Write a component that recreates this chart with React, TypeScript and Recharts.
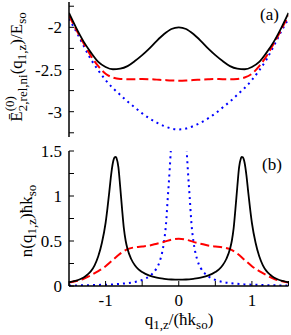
import React from 'react';
import { LineChart, Line, XAxis, YAxis } from 'recharts';

// ---------- data ----------
const qGrid = [-1.5, -1.4, -1.3, -1.2, -1.1, -1.0, -0.9, -0.8, -0.7, -0.6, -0.5, -0.4, -0.3, -0.2, -0.1, 0,
  0.1, 0.2, 0.3, 0.4, 0.5, 0.6, 0.7, 0.8, 0.9, 1.0, 1.1, 1.2, 1.3, 1.4, 1.5];

// panel (a): energy
const energySolid = [-1.83, -2.01, -2.17, -2.30, -2.41, -2.47, -2.497, -2.49, -2.46, -2.40, -2.33, -2.25, -2.16, -2.08, -2.02, -2.0,
  -2.02, -2.08, -2.16, -2.25, -2.33, -2.40, -2.46, -2.49, -2.497, -2.47, -2.41, -2.30, -2.17, -2.01, -1.83];
const energyDashed = [-1.86, -2.03, -2.19, -2.34, -2.46, -2.55, -2.595, -2.612, -2.615, -2.615, -2.612, -2.615, -2.62, -2.625, -2.63, -2.632,
  -2.63, -2.625, -2.62, -2.615, -2.612, -2.615, -2.615, -2.612, -2.595, -2.55, -2.46, -2.34, -2.19, -2.03, -1.86];
const energyDotted = [-1.90, -2.05, -2.22, -2.38, -2.51, -2.625, -2.72, -2.80, -2.88, -2.95, -3.02, -3.08, -3.13, -3.17, -3.20, -3.21,
  -3.20, -3.17, -3.13, -3.08, -3.02, -2.95, -2.88, -2.80, -2.72, -2.625, -2.51, -2.38, -2.22, -2.05, -1.90];

// panel (b): density
const qDensitySolid = [-1.5, -1.45, -1.4, -1.35, -1.3, -1.25, -1.2, -1.15, -1.1, -1.05, -1.0, -0.975, -0.95, -0.925, -0.9, -0.875, -0.86, -0.85,
  -0.825, -0.8, -0.775, -0.75, -0.725, -0.7, -0.65, -0.6, -0.55, -0.5, -0.4, -0.3, -0.2, -0.1, 0,
  0.1, 0.2, 0.3, 0.4, 0.5, 0.55, 0.6, 0.65, 0.7, 0.725, 0.75, 0.775, 0.8, 0.825, 0.85, 0.86, 0.875, 0.9, 0.925, 0.95, 0.975,
  1.0, 1.05, 1.1, 1.15, 1.2, 1.25, 1.3, 1.35, 1.4, 1.45, 1.5];
const densitySolid = [0.04, 0.05, 0.06, 0.075, 0.095, 0.125, 0.165, 0.23, 0.33, 0.48, 0.70, 0.86, 1.04, 1.23, 1.37, 1.43, 1.435, 1.42,
  1.32, 1.10, 0.86, 0.64, 0.50, 0.41, 0.30, 0.23, 0.185, 0.155, 0.115, 0.092, 0.08, 0.072, 0.07,
  0.072, 0.08, 0.092, 0.115, 0.155, 0.185, 0.23, 0.30, 0.41, 0.50, 0.64, 0.86, 1.10, 1.32, 1.42, 1.435, 1.43, 1.37, 1.23, 1.04, 0.86,
  0.70, 0.48, 0.33, 0.23, 0.165, 0.125, 0.095, 0.075, 0.06, 0.05, 0.04];

const densityDashed = [0.04, 0.055, 0.08, 0.12, 0.165, 0.22, 0.29, 0.36, 0.41, 0.43, 0.44, 0.45, 0.47, 0.49, 0.515, 0.525,
  0.515, 0.49, 0.47, 0.45, 0.44, 0.43, 0.41, 0.36, 0.29, 0.22, 0.165, 0.12, 0.08, 0.055, 0.04];

const qDensityDotted = [-1.5, -1.3, -1.1, -0.9, -0.8, -0.7, -0.6, -0.5, -0.45, -0.4, -0.35, -0.3, -0.275, -0.25, -0.225, -0.2, -0.175,
  -0.15, -0.125, -0.1, -0.075, -0.05, -0.025, 0, 0.025, 0.05, 0.075, 0.1, 0.125, 0.15, 0.175, 0.2, 0.225, 0.25, 0.275, 0.3, 0.35,
  0.4, 0.45, 0.5, 0.6, 0.7, 0.8, 0.9, 1.1, 1.3, 1.5];
const densityDotted = [0.005, 0.008, 0.012, 0.018, 0.024, 0.032, 0.045, 0.067, 0.085, 0.108, 0.145, 0.2, 0.24, 0.3, 0.38, 0.5, 0.68,
  0.98, 1.28, 1.65, 2.2, 2.8, 3.3, 3.5, 3.3, 2.8, 2.2, 1.65, 1.28, 0.98, 0.68, 0.5, 0.38, 0.3, 0.24, 0.2, 0.145,
  0.108, 0.085, 0.067, 0.045, 0.032, 0.024, 0.018, 0.012, 0.008, 0.005];

// ticks
const xTicks = [-1.5, -1, -0.5, 0, 0.5, 1, 1.5];
const xTickLabels = [-1, 0, 1];
const yTicksA = [-3.25, -3, -2.75, -2.5, -2.25, -2, -1.75];
const yTickLabelsA = [-3, -2.5, -2];
const yTicksB = [0, 0.25, 0.5, 0.75, 1, 1.25, 1.5];
const yTickLabelsB = [0, 0.5, 1, 1.5];
const panelTags = ['(a)', '(b)'];

// ---------- styling ----------
const FONT = 'Liberation Serif';
const tickStyle = { fill: '#000', fontSize: 17, fontFamily: FONT, style: { fontFamily: FONT } };
const axisLineStyle = { stroke: '#000', strokeWidth: 1.5 };
const tickLineStyle = { stroke: '#000', strokeWidth: 1 };
const fmt = (labels: number[]) => (v: number) => (labels.some((l) => Math.abs(l - v) < 1e-9) ? String(v) : '');

const energyData = qGrid.map((q, i) => ({ q, solid: energySolid[i], dashed: energyDashed[i], dotted: energyDotted[i] }));
const pts = (qs: number[], vs: number[]) => qs.map((q, i) => ({ q, v: vs[i] }));
const densitySolidData = pts(qDensitySolid, densitySolid);
const densityDashedData = pts(qGrid, densityDashed);
const densityDottedData = pts(qDensityDotted, densityDotted);

const txt = { fontFamily: FONT, fontSize: 17, fill: '#000', style: { fontFamily: FONT } };

const LabelsA = () => (
  <g>
    <text x={22} y={67} transform="rotate(-90, 22, 67)" textAnchor="middle" {...txt}>
      <tspan>Ē</tspan>
      <tspan fontSize={13} dy={-8}>(0)</tspan>
      <tspan fontSize={13} dx={-15} dy={13}>2,rel,ni</tspan>
      <tspan dy={-5}>(q</tspan>
      <tspan fontSize={13} dy={4}>1,z</tspan>
      <tspan dy={-4}>)/E</tspan>
      <tspan fontSize={13} dy={4}>so</tspan>
    </text>
    <text x={260} y={19.5} {...txt}>{panelTags[0]}</text>
  </g>
);

const LabelsB = () => (
  <g>
    <text x={32} y={83} transform="rotate(-90, 32, 83)" textAnchor="middle" {...txt}>
      <tspan>n(q</tspan>
      <tspan fontSize={13} dy={4}>1,z</tspan>
      <tspan dy={-4}>)ħk</tspan>
      <tspan fontSize={13} dy={4}>so</tspan>
    </text>
    <text x={262} y={32} {...txt}>{panelTags[1]}</text>
  </g>
);

const XLabelB = () => (
  <text x={179} y={187} textAnchor="middle" {...txt}>
    <tspan>q</tspan>
    <tspan fontSize={13} dy={4}>1,z</tspan>
    <tspan dy={-4}>/(ħk</tspan>
    <tspan fontSize={13} dy={4}>so</tspan>
    <tspan dy={-4}>)</tspan>
  </text>
);

export default function App() {
  return (
    <div style={{ position: 'absolute', left: 0, top: 0, width: 291, height: 335, background: '#fff' }}>
      <div style={{ position: 'absolute', left: 0, top: 0 }}>
        <LineChart width={291} height={140} data={energyData} margin={{ top: 2, right: 2.5, bottom: 3, left: 0 }}>
          <XAxis type="number" dataKey="q" domain={[-1.5, 1.5]} ticks={xTicks} allowDataOverflow height={0}
            tick={false} tickSize={-5} axisLine={axisLineStyle} tickLine={tickLineStyle} interval={0} />
          <YAxis type="number" domain={[-3.3, -1.7]} ticks={yTicksA} allowDataOverflow width={69}
            tick={tickStyle} tickFormatter={fmt(yTickLabelsA)} tickSize={-5} tickMargin={12}
            axisLine={axisLineStyle} tickLine={tickLineStyle} interval={0} label={LabelsA} />
          <XAxis xAxisId="top" orientation="top" type="number" dataKey="q" domain={[-1.5, 1.5]} ticks={xTicks}
            allowDataOverflow height={0} tick={false} tickSize={-5} axisLine={axisLineStyle} tickLine={tickLineStyle}
            interval={0} />
          <YAxis yAxisId="right" orientation="right" type="number" domain={[-3.3, -1.7]} ticks={yTicksA}
            allowDataOverflow width={0} tick={false} tickSize={-5} axisLine={axisLineStyle} tickLine={tickLineStyle} interval={0} />
          <Line type="monotone" dataKey="dotted" stroke="#0000ff" strokeWidth={2} strokeDasharray="2 4" dot={false}
            activeDot={false} isAnimationActive={false} />
          <Line type="monotone" dataKey="dashed" stroke="#ff0000" strokeWidth={2} strokeDasharray="9 4" dot={false}
            activeDot={false} isAnimationActive={false} />
          <Line type="monotone" dataKey="solid" stroke="#000" strokeWidth={1.8} dot={false}
            activeDot={false} isAnimationActive={false} />
        </LineChart>
      </div>
      <div style={{ position: 'absolute', left: 0, top: 138 }}>
        <LineChart width={291} height={197} margin={{ top: 13, right: 2.5, bottom: 0, left: 0 }}>
          <XAxis type="number" dataKey="q" domain={[-1.5, 1.5]} ticks={xTicks} allowDataOverflow height={49}
            tick={tickStyle} tickFormatter={fmt(xTickLabels)} tickSize={-5} tickMargin={13}
            axisLine={axisLineStyle} tickLine={tickLineStyle} interval={0} label={XLabelB} />
          <YAxis type="number" domain={[0, 1.5]} ticks={yTicksB} allowDataOverflow width={69}
            tick={tickStyle} tickFormatter={fmt(yTickLabelsB)} tickSize={-5} tickMargin={12}
            axisLine={axisLineStyle} tickLine={tickLineStyle} interval={0} label={LabelsB} />
          <XAxis xAxisId="top" orientation="top" type="number" dataKey="q" domain={[-1.5, 1.5]} ticks={xTicks}
            allowDataOverflow height={0} tick={false} tickSize={-5} axisLine={axisLineStyle} tickLine={tickLineStyle}
            interval={0} />
          <YAxis yAxisId="right" orientation="right" type="number" domain={[0, 1.5]} ticks={yTicksB}
            allowDataOverflow width={0} tick={false} tickSize={-5} axisLine={axisLineStyle} tickLine={tickLineStyle} interval={0} />
          <Line data={densityDottedData} type="monotone" dataKey="v" stroke="#0000ff" strokeWidth={2} strokeDasharray="2 4"
            dot={false} activeDot={false} isAnimationActive={false} />
          <Line data={densityDashedData} type="monotone" dataKey="v" stroke="#ff0000" strokeWidth={2} strokeDasharray="9 4"
            dot={false} activeDot={false} isAnimationActive={false} />
          <Line data={densitySolidData} type="monotone" dataKey="v" stroke="#000" strokeWidth={1.8}
            dot={false} activeDot={false} isAnimationActive={false} />
        </LineChart>
      </div>
    </div>
  );
}
